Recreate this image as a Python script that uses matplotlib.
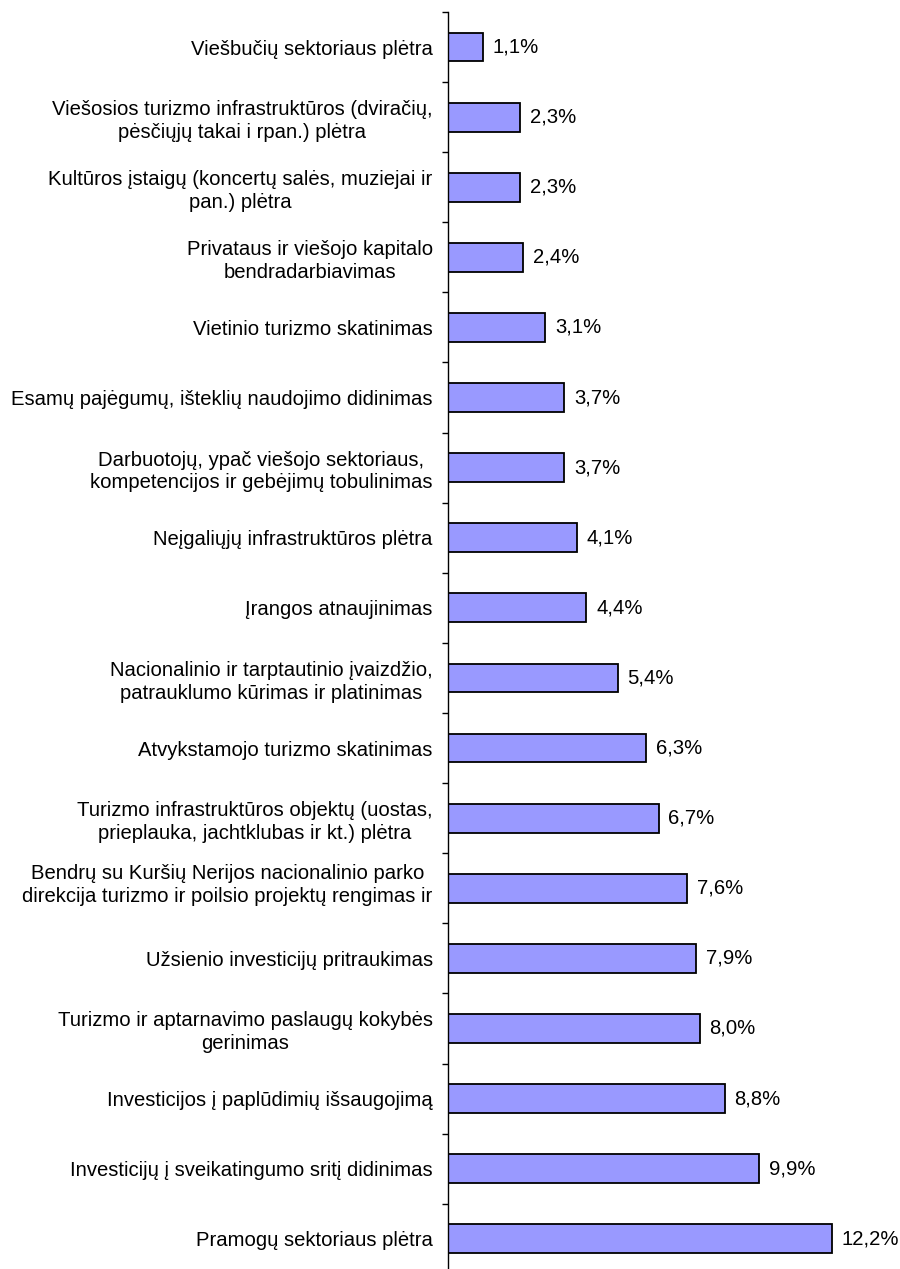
import numpy as np
import matplotlib
matplotlib.use("Agg")
from matplotlib import pyplot as plt
from matplotlib.transforms import ScaledTranslation

# categories, top to bottom as in the picture
labels = [
	"Viešbučių sektoriaus plėtra",
	"Viešosios turizmo infrastruktūros (dviračių,\npėsčiųjų takai i rpan.) plėtra",
	"Kultūros įstaigų (koncertų salės, muziejai ir\npan.) plėtra",
	"Privataus ir viešojo kapitalo\nbendradarbiavimas",
	"Vietinio turizmo skatinimas",
	"Esamų pajėgumų, išteklių naudojimo didinimas",
	"Darbuotojų, ypač viešojo sektoriaus,\nkompetencijos ir gebėjimų tobulinimas",
	"Neįgaliųjų infrastruktūros plėtra",
	"Įrangos atnaujinimas",
	"Nacionalinio ir tarptautinio įvaizdžio,\npatrauklumo kūrimas ir platinimas",
	"Atvykstamojo turizmo skatinimas",
	"Turizmo infrastruktūros objektų (uostas,\nprieplauka, jachtklubas ir kt.) plėtra",
	"Bendrų su Kuršių Nerijos nacionalinio parko\ndirekcija turizmo ir poilsio projektų rengimas ir",
	"Užsienio investicijų pritraukimas",
	"Turizmo ir aptarnavimo paslaugų kokybės\ngerinimas",
	"Investicijos į paplūdimių išsaugojimą",
	"Investicijų į sveikatingumo sritį didinimas",
	"Pramogų sektoriaus plėtra",
]
values = [1.1, 2.3, 2.3, 2.4, 3.1, 3.7, 3.7, 4.1, 4.4, 5.4, 6.3, 6.7, 7.6, 7.9, 8.0, 8.8, 9.9, 12.2]

plt.rcParams['font.family'] = ['Liberation Sans', 'DejaVu Sans']

W, H = 900, 1269
fig = plt.figure(figsize=(W / 100, H / 100), dpi=100)

# axis line at x=448 px, top at y=12 px, 70.1 px per category (bottom runs off the image)
step = 70.1
x0, y_top = 448, 12
x_scale = 31.45  # px per percent
xmax = 14
ax = fig.add_axes([x0 / W, 1 - (y_top + step * len(values)) / H,
	xmax * x_scale / W, step * len(values) / H])

n = len(values)
ypos = np.arange(n)
ax.barh(ypos, values, height=0.41, color='#9999FF', edgecolor='black', linewidth=1.3)

ax.set_ylim(n - 0.5, -0.5)
ax.set_xlim(0, xmax)

for sp in ['top', 'right', 'bottom']:
	ax.spines[sp].set_visible(False)
ax.spines['left'].set_linewidth(1.0)
ax.xaxis.set_visible(False)

ax.set_yticks(ypos)
ax.set_yticklabels(labels, fontsize=14.6, multialignment='center', linespacing=1.25)
ax.tick_params(axis='y', which='major', length=0, pad=11)
ax.set_yticks(np.arange(n + 1) - 0.5, minor=True)
ax.tick_params(axis='y', which='minor', length=4.5, width=1.0)

# the long "Bendrų su ..." label sits a little higher in the original (cut third line)
lbl = ax.get_yticklabels()[12]
lbl.set_transform(lbl.get_transform() + ScaledTranslation(0, 7 / 100, fig.dpi_scale_trans))

for y, v in zip(ypos, values):
	ax.annotate(f"{v:.1f}%".replace('.', ','), (v, y), xytext=(7, 0),
		textcoords='offset points', va='center', ha='left', fontsize=14.6)

fig.savefig("out.png", dpi=100)
